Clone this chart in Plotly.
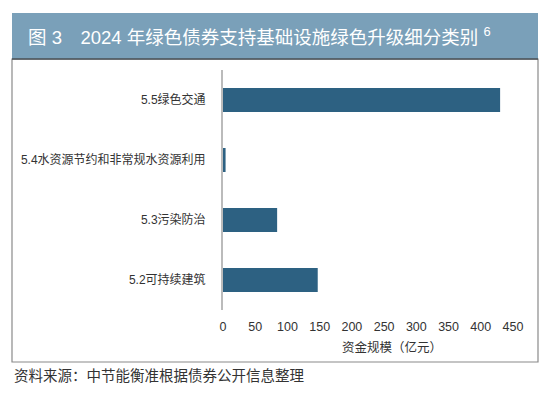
import plotly.graph_objects as go

categories = ["5.2可持续建筑", "5.3污染防治", "5.4水资源节约和非常规水资源利用", "5.5绿色交通"]
values = [147, 84, 4, 430]
x_ticks = [0, 50, 100, 150, 200, 250, 300, 350, 400, 450]

title_text = "图 3　2024 年绿色债券支持基础设施绿色升级细分类别 <sup>6</sup>"
x_title = "资金规模（亿元）"
source_text = "资料来源：中节能衡准根据债券公开信息整理"

FONT = "Helvetica, Arial, 'Noto Sans CJK SC', sans-serif"

W, H = 550, 395
L, R, T, B = 223, 513, 70, 310


def px(x):
    return (x - L) / (R - L)


def py(y):
    return (B - y) / (B - T)


fig = go.Figure(go.Bar(
    y=categories, x=values, orientation="h",
    marker=dict(color="#2d6182", line=dict(width=0)),
    width=0.4,
))

fig.update_layout(
    width=W, height=H,
    margin=dict(l=L, r=W - R, t=T, b=H - B, pad=0),
    paper_bgcolor="white", plot_bgcolor="white",
    font=dict(family=FONT, size=12, color="#333333"),
    showlegend=False,
    xaxis=dict(range=[0, 450], tickvals=x_ticks, showgrid=False, zeroline=False,
               showline=False, ticks="", ticklabelstandoff=7,
               tickfont=dict(size=12.5, color="#333333"), fixedrange=True),
    yaxis=dict(showgrid=False, zeroline=False, showline=True, linecolor="#bbbbbb",
               linewidth=2, ticks="", ticklabelstandoff=13,
               tickfont=dict(size=12, color="#333333"), range=[-0.5, 3.5]),
    shapes=[
        dict(type="rect", xref="paper", yref="paper", x0=px(12), x1=px(538), y0=py(362), y1=py(59),
             line=dict(color="#8a8a8a", width=1.2), fillcolor="rgba(0,0,0,0)", layer="below"),
        dict(type="rect", xref="paper", yref="paper", x0=px(12), x1=px(538), y0=py(59), y1=py(13),
             line=dict(width=0), fillcolor="#7aa0b9", layer="below"),
        dict(type="line", xref="paper", yref="paper", x0=px(12), x1=px(538), y0=py(59), y1=py(59),
             line=dict(color="#4a4f55", width=1.5)),
    ],
    annotations=[
        dict(text=title_text, xref="paper", yref="paper", x=px(26), y=py(36), xanchor="left",
             yanchor="middle", showarrow=False, font=dict(size=18.5, color="white", family=FONT)),
        dict(text=x_title, xref="paper", yref="paper", x=px(392), y=py(347), xanchor="center",
             yanchor="middle", showarrow=False, font=dict(size=12.5, color="#333333")),
        dict(text=source_text, xref="paper", yref="paper", x=px(12), y=py(376), xanchor="left",
             yanchor="middle", showarrow=False, font=dict(size=14.5, color="#333333")),
    ],
)

fig.write_html("out.html", config={"displayModeBar": False},
               post_script="document.body.style.margin='0';")
